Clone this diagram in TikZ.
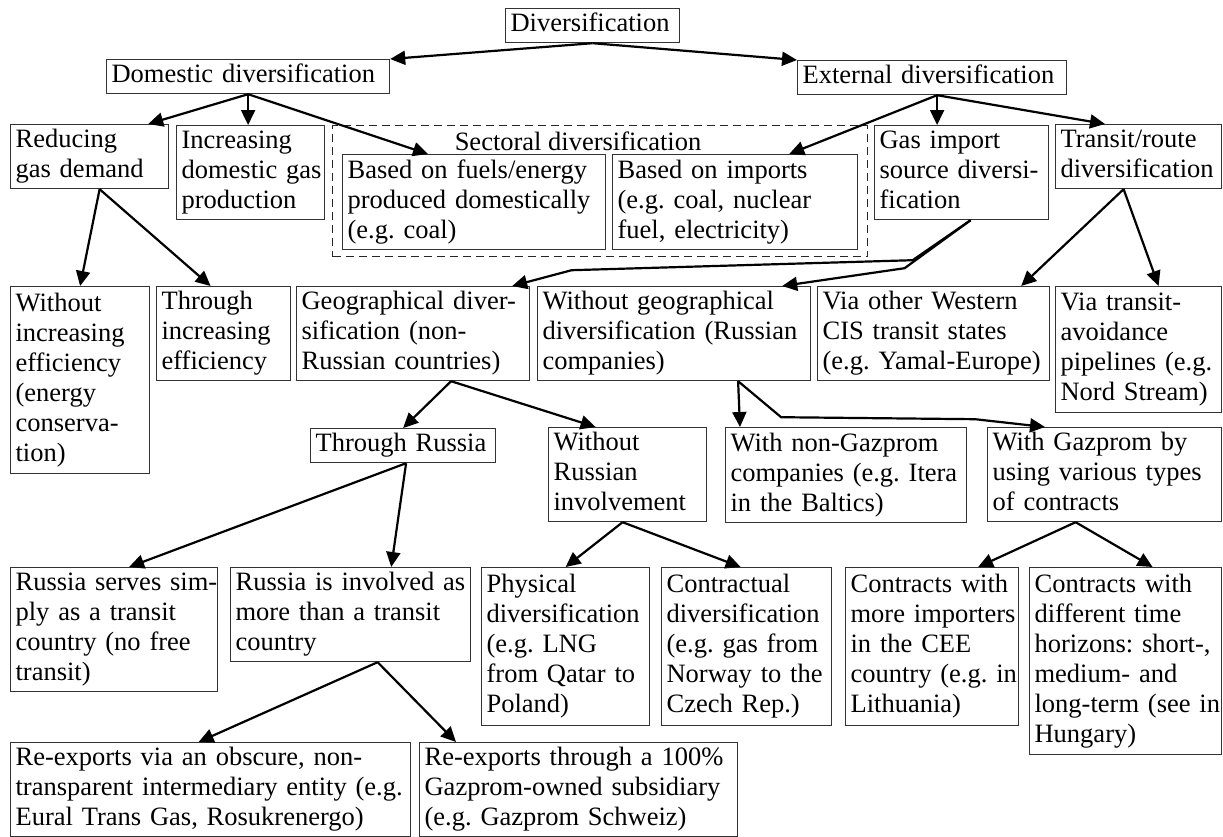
\documentclass[tikz,border=0pt]{standalone}
\usepackage{fontspec}
\setmainfont{Liberation Serif}
\usepackage{tikz}
\usetikzlibrary{arrows.meta}

% lines of a box, kept as typed
\newcommand{\boxlines}[1]{\begin{tabular}[t]{@{}l@{}}#1\end{tabular}}

\begin{document}
\begin{tikzpicture}[
        x=1pt, y=-1pt,
        >={Triangle[length=15pt, width=14pt]},
        every node/.style={font=\fontsize{26.5}{30}\selectfont\frenchspacing},
        box/.style={draw=black!80, line width=1.2pt, rectangle, anchor=north west, align=left, inner xsep=5pt, inner ysep=2pt},
        group/.style={draw=black!85, line width=1.4pt, dash pattern=on 8pt off 5pt, rectangle, anchor=north west, inner sep=0pt},
        conn/.style={->, line width=2.2pt}
    ]
        \useasboundingbox (0,0) rectangle (1223,836);

        % Nodes
        \node (div) [box, text width=164pt, minimum height=32pt] at (505,8) {\boxlines{Diversification}};
        \node (dom) [box, text width=273pt, minimum height=32pt] at (106,59) {\boxlines{Domestic diversification}};
        \node (ext) [box, text width=259pt, minimum height=31pt] at (797,60) {\boxlines{External diversification}};

        \node (red) [box, text width=148pt, minimum height=63pt] at (10,124) {\boxlines{Reducing\\gas demand}};
        \node (inc) [box, text width=138pt, minimum height=93pt] at (176,125) {\boxlines{Increasing\\domestic gas\\production}};
        \node (sect) [group, minimum width=535pt, minimum height=131pt] at (332,125) {};
        \node (secttitle) [anchor=base] at (578,150) {Sectoral diversification};
        \node (fuel) [box, text width=253pt, minimum height=95pt] at (342,154) {\boxlines{Based on fuels/energy\\produced domestically\\(e.g. coal)}};
        \node (imp) [box, text width=235pt, minimum height=95pt] at (612,154) {\boxlines{Based on imports\\(e.g. coal, nuclear\\fuel, electricity)}};
        \node (src) [box, text width=164pt, minimum height=93pt] at (874,125) {\boxlines{Gas import\\source diversi-\\fication}};
        \node (route) [box, text width=156pt, minimum height=63pt] at (1055,124) {\boxlines{Transit/route\\diversification}};

        \node (woeff) [box, text width=129pt, minimum height=187pt] at (10,286) {\boxlines{Without\\increasing\\efficiency\\(energy\\conserva-\\tion)}};
        \node (effi) [box, text width=124pt, minimum height=93pt] at (156,286) {\boxlines{Through\\increasing\\efficiency}};
        \node (geo) [box, text width=223pt, minimum height=93pt] at (296,286) {\boxlines{Geographical diver-\\sification (non-\\Russian countries)}};
        \node (nogeo) [box, text width=263pt, minimum height=93pt] at (537,286) {\boxlines{Without geographical\\diversification (Russian\\companies)}};
        \node (cis) [box, text width=222pt, minimum height=93pt] at (817,286) {\boxlines{Via other Western\\CIS transit states\\(e.g. Yamal-Europe)}};
        \node (avoid) [box, text width=156pt, minimum height=126pt] at (1055,286) {\boxlines{Via transit-\\avoidance\\pipelines (e.g.\\Nord Stream)}};

        \node (thru) [box, text width=175pt, minimum height=32pt] at (310,428) {\boxlines{Through Russia}};
        \node (norus) [box, text width=148pt, minimum height=94pt] at (548,427) {\boxlines{Without\\Russian\\involvement}};
        \node (nongaz) [box, text width=231pt, minimum height=95pt] at (725,427) {\boxlines{With non-Gazprom\\companies (e.g. Itera\\in the Baltics)}};
        \node (gaz) [box, text width=224pt, minimum height=93pt] at (987,427) {\boxlines{With Gazprom by\\using various types\\of contracts}};

        \node (serves) [box, text width=197pt, minimum height=124pt] at (10,567) {\boxlines{Russia serves sim-\\ply as a transit\\country (no free\\transit)}};
        \node (involved) [box, text width=230pt, minimum height=94pt] at (230,567) {\boxlines{Russia is involved as\\more than a transit\\country}};
        \node (phys) [box, text width=158pt, minimum height=158pt] at (481,567) {\boxlines{Physical\\diversification\\(e.g. LNG\\from Qatar to\\Poland)}};
        \node (contr) [box, text width=160pt, minimum height=158pt] at (661,567) {\boxlines{Contractual\\diversification\\(e.g. gas from\\Norway to the\\Czech Rep.)}};
        \node (more) [box, text width=163pt, minimum height=158pt] at (845,567) {\boxlines{Contracts with\\more importers\\in the CEE\\country (e.g. in\\Lithuania)}};
        \node (horiz) [box, text width=182pt, minimum height=187pt] at (1029,567) {\boxlines{Contracts with\\different time\\horizons: short-,\\medium- and\\long-term (see in\\Hungary)}};

        \node (obscure) [box, text width=390pt, minimum height=93pt] at (10,742) {\boxlines{Re-exports via an obscure, non-\\transparent intermediary entity (e.g.\\Eural Trans Gas, Rosukrenergo)}};
        \node (subsid) [box, text width=308pt, minimum height=93pt] at (419,742) {\boxlines{Re-exports through a 100\%\\Gazprom-owned subsidiary\\(e.g. Gazprom Schweiz)}};

        % Arrows
        \draw [conn] (div.south) -- (dom.north east);
        \draw [conn] (div.south) -- (ext.north west);
        \draw [conn] (dom.south) -- ([xshift=-21pt]red.north east);
        \draw [conn] (dom.south) -- (dom.south |- inc.north);
        \draw [conn] (dom.south) -- ([xshift=86pt]fuel.north west);
        \draw [conn] ([xshift=5pt]ext.south) -- ([xshift=-69pt]imp.north east);
        \draw [conn] ([xshift=5pt]ext.south) -- ([xshift=5pt]ext.south |- src.north);
        \draw [conn] ([xshift=5pt]ext.south) -- ([xshift=50pt]route.north west);

        \draw [conn] ([xshift=10pt]red.south) -- (woeff.north);
        \draw [conn] ([xshift=10pt]red.south) -- ([xshift=-13pt]effi.north);

        % from gas import source, with bends
        \draw [conn] ([xshift=9pt]src.south) -- ++(-58,40) -- ++(-341,10) -- ([xshift=-18pt]geo.north east);
        \draw [conn] ([xshift=9pt]src.south) -- ++(-66,48) -- ([xshift=-29pt]nogeo.north east);
        \draw [conn] ([xshift=-15pt]route.south) -- ([xshift=-29pt]cis.north east);
        \draw [conn] ([xshift=-15pt]route.south) -- ([xshift=20pt]avoid.north);

        \draw [conn] ([xshift=38pt]geo.south) -- (thru.north);
        \draw [conn] ([xshift=38pt]geo.south) -- ([xshift=-32pt]norus.north);
        \draw [conn] ([xshift=64pt]nogeo.south) -- ([xshift=15pt]nongaz.north west);
        \draw [conn] ([xshift=64pt]nogeo.south) -- ++(43,36) -- ++(194,2) -- ([xshift=58pt]gaz.north west);

        \draw [conn] ([xshift=3pt]thru.south) -- ([xshift=15pt]serves.north);
        \draw [conn] ([xshift=3pt]thru.south) -- ([xshift=-80pt]involved.north east);
        \draw [conn] ([xshift=-5pt]norus.south) -- (phys.north);
        \draw [conn] ([xshift=-5pt]norus.south) -- ([xshift=-6pt]contr.north);
        \draw [conn] ([xshift=-29pt]gaz.south) -- ([xshift=46pt]more.north);
        \draw [conn] ([xshift=-29pt]gaz.south) -- ([xshift=27pt]horiz.north);

        \draw [conn] ([xshift=27pt]involved.south) -- ([xshift=-12pt]obscure.north);
        \draw [conn] ([xshift=27pt]involved.south) -- ([xshift=37pt]subsid.north west);
    \end{tikzpicture}
\end{document}
